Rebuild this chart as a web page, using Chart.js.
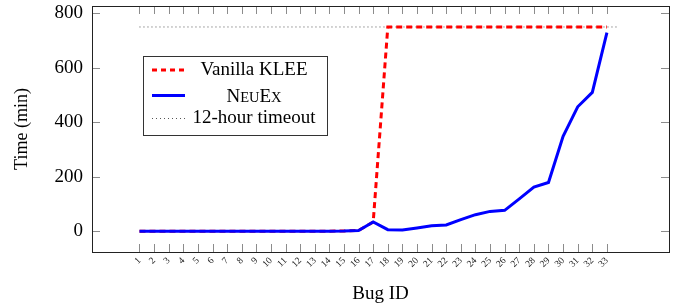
<!DOCTYPE html>
<html>
<head>
<meta charset="utf-8">
<script src="https://cdn.jsdelivr.net/npm/chart.js@4/dist/chart.umd.min.js"></script>
<style>
html,body{margin:0;padding:0;background:#fff;}
#wrap{position:relative;width:686px;height:305px;}
</style>
</head>
<body>
<div id="wrap"><canvas id="c" width="686" height="305"></canvas></div>
<script>
const bugIds = [1,2,3,4,5,6,7,8,9,10,11,12,13,14,15,16,17,18,19,20,21,22,23,24,25,26,27,28,29,30,31,32,33];
const neuexTimes = [0.5,0.5,0.5,0.5,0.5,0.5,0.5,0.5,0.5,0.5,0.5,0.5,0.5,0.5,1,3,34,6,5,12,20,23,43,61,73,77,119,162,179,349,457,510,729];
const vanillaTimes = [0.5,0.5,0.5,0.5,0.5,0.5,0.5,0.5,0.5,0.5,0.5,0.5,0.5,0.5,1,3,34,750,750,750,750,750,750,750,750,750,750,750,750,750,750,750,750];
const timeoutX = [1, 33.8];
const timeoutY = [750, 750];
const yTicks = [0,200,400,600,800];
const seriesNames = ['Vanilla KLEE', 'NeuEx', '12-hour timeout'];

const FONT = '"Liberation Serif", "Times New Roman", serif';

const toPts = (xs, ys) => xs.map((x, i) => ({x: x, y: ys[i]}));

const framePlugin = {
  id: 'frame',
  afterDraw(chart) {
    const ctx = chart.ctx;
    const a = chart.chartArea;
    const xs = chart.scales.x, ys = chart.scales.y;
    ctx.save();
    ctx.strokeStyle = '#8c8c8c';
    ctx.lineWidth = 1;
    ctx.beginPath();
    bugIds.forEach(b => {
      const px = Math.round(xs.getPixelForValue(b)) + 0.5;
      ctx.moveTo(px, a.bottom); ctx.lineTo(px, a.bottom - 8);
      ctx.moveTo(px, a.top); ctx.lineTo(px, a.top + 8);
    });
    yTicks.forEach(v => {
      const py = Math.round(ys.getPixelForValue(v)) + 0.5;
      ctx.moveTo(a.left, py); ctx.lineTo(a.left + 8, py);
      ctx.moveTo(a.right, py); ctx.lineTo(a.right - 8, py);
    });
    ctx.stroke();
    ctx.strokeStyle = '#222';
    ctx.lineWidth = 1;
    ctx.strokeRect(Math.round(a.left) + 0.5, Math.round(a.top) + 0.5, Math.round(a.right - a.left), Math.round(a.bottom - a.top));

    const bx = 143.5, by = 56.5, bw = 184, bh = 79;
    ctx.fillStyle = '#fff';
    ctx.fillRect(bx, by, bw, bh);
    ctx.strokeStyle = '#333';
    ctx.strokeRect(bx, by, bw, bh);
    const rows = [70, 95.5, 118.5];
    const sx0 = 152, sx1 = 185, tc = 254;
    ctx.lineWidth = 3;
    ctx.strokeStyle = '#ff0000';
    ctx.setLineDash([5, 4]);
    ctx.beginPath(); ctx.moveTo(sx0, rows[0]); ctx.lineTo(sx1, rows[0]); ctx.stroke();
    ctx.setLineDash([]);
    ctx.strokeStyle = '#0000ff';
    ctx.beginPath(); ctx.moveTo(sx0, rows[1]); ctx.lineTo(sx1, rows[1]); ctx.stroke();
    ctx.lineWidth = 1;
    ctx.strokeStyle = '#555';
    ctx.setLineDash([1, 3]);
    ctx.beginPath(); ctx.moveTo(sx0, rows[2]); ctx.lineTo(sx1, rows[2]); ctx.stroke();
    ctx.setLineDash([]);
    ctx.fillStyle = '#000';
    ctx.textBaseline = 'middle';
    ctx.textAlign = 'center';
    ctx.font = '19px ' + FONT;
    ctx.fillText(seriesNames[0], tc, rows[0]);
    ctx.fillText(seriesNames[2], tc, rows[2]);
    const name = seriesNames[1];
    const parts = [];
    for (const ch of name) {
      if (ch === ch.toUpperCase()) parts.push({t: ch, s: 19});
      else parts.push({t: ch.toUpperCase(), s: 14.5});
    }
    ctx.textAlign = 'left';
    ctx.textBaseline = 'alphabetic';
    let total = 0;
    parts.forEach(p => { ctx.font = p.s + 'px ' + FONT; p.w = ctx.measureText(p.t).width; total += p.w; });
    let x = tc - total / 2;
    const base = rows[1] + 6.5;
    parts.forEach(p => { ctx.font = p.s + 'px ' + FONT; ctx.fillText(p.t, x, base); x += p.w; });
    ctx.restore();
  }
};

new Chart(document.getElementById('c'), {
  type: 'line',
  data: {
    datasets: [
      {
        label: seriesNames[0],
        data: toPts(bugIds, vanillaTimes),
        borderColor: '#ff0000',
        borderWidth: 3,
        borderDash: [6, 4],
        pointRadius: 0,
        fill: false,
        tension: 0,
        order: 1
      },
      {
        label: seriesNames[1],
        data: toPts(bugIds, neuexTimes),
        borderColor: '#0000ff',
        borderWidth: 3,
        pointRadius: 0,
        fill: false,
        tension: 0,
        order: 0
      },
      {
        label: seriesNames[2],
        data: toPts(timeoutX, timeoutY),
        borderColor: '#555',
        borderWidth: 1,
        borderDash: [1, 3],
        pointRadius: 0,
        fill: false,
        tension: 0,
        order: 2
      }
    ]
  },
  options: {
    responsive: false,
    animation: false,
    devicePixelRatio: 1,
    layout: { padding: { top: 6, right: 17, left: 0, bottom: 0 } },
    plugins: { legend: { display: false }, tooltip: { enabled: false } },
    scales: {
      x: {
        type: 'linear',
        min: -2.25,
        max: 37.25,
        afterBuildTicks(s) { s.ticks = bugIds.map(v => ({value: v})); },
        afterFit(s) { s.height = 53; s.paddingLeft = 0; s.paddingRight = 0; },
        grid: { display: false, drawTicks: false },
        border: { display: false },
        ticks: {
          autoSkip: false,
          minRotation: 45,
          maxRotation: 45,
          padding: 3,
          color: '#222',
          font: { family: FONT, size: 9.5 },
          callback: (v) => String(v)
        },
        title: {
          display: true,
          text: 'Bug ID',
          color: '#000',
          font: { family: FONT, size: 19 },
          padding: { top: 0, bottom: 0 }
        }
      },
      y: {
        type: 'linear',
        min: -76,
        max: 827,
        afterBuildTicks(s) { s.ticks = yTicks.map(v => ({value: v})); },
        afterFit(s) { s.width = 92; s.paddingTop = 0; s.paddingBottom = 0; },
        grid: { display: false, drawTicks: false },
        border: { display: false },
        ticks: {
          padding: 9,
          color: '#000',
          font: { family: FONT, size: 19 }
        },
        title: {
          display: true,
          text: 'Time (min)',
          color: '#000',
          font: { family: FONT, size: 18 },
          padding: { top: 11, bottom: 0 }
        }
      }
    }
  },
  plugins: [framePlugin]
});
</script>
</body>
</html>
